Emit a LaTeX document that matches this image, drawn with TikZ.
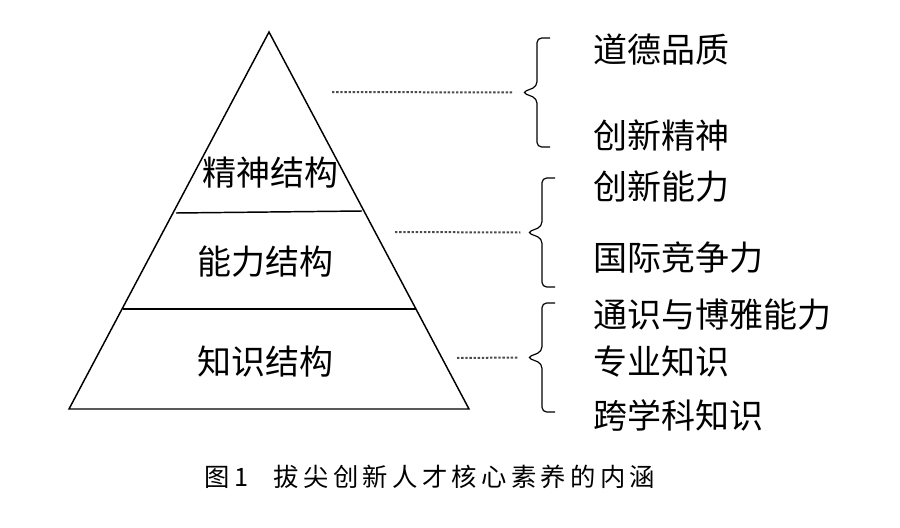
\documentclass[tikz,border=0pt]{standalone}
\usepackage{fontspec}
\newfontfamily\cjk{Noto Sans CJK SC}
\newfontfamily\cjkcap[LetterSpace=17]{Noto Sans CJK SC}

\begin{document}
\begin{tikzpicture}[x=0.75pt, y=-0.75pt,
      every node/.append style={font=\cjk\fontsize{25.5}{30}\selectfont, inner sep=0pt},
      layer/.style={line width=1.1pt},
      dots/.style={gray!60!black, line width=1.5pt, dash pattern=on 1.8pt off 1.3pt},
      bracket/.style={line width=0.9pt, rounded corners=3.5pt}]
    \tikzstyle{item} = [anchor=west, color=black]
    \useasboundingbox (0,0) rectangle (900,528);
    \coordinate (apex) at (269,32);
    \coordinate (baseL) at (69,409);
    \coordinate (baseR) at (469,409);
    \coordinate (cut1L) at (176,213);
    \coordinate (cut1R) at (362,211);
    \coordinate (cut2L) at (123,309);
    \coordinate (cut2R) at (416,309);
    \draw[layer, line join=miter] (apex) -- (baseR) -- (baseL) -- cycle;
    \draw[layer] (cut1L) -- (cut1R);
    \draw[layer] (cut2L) -- (cut2R);
    \node (spirit) at (270,173) {精神结构};
    \node (ability) at (265,262) {能力结构};
    \node (knowledge) at (265,362) {知识结构};
    \coordinate (b1top) at (550,38);
    \coordinate (b2top) at (555,178);
    \coordinate (b3top) at (555,303);
    \coordinate (tip1) at (522,92.5);
    \coordinate (tip2) at (527,232.5);
    \coordinate (tip3) at (527,357.5);
    \coordinate (from1) at (332,92);
    \coordinate (from2) at (395,232);
    \coordinate (from3) at (457,358);
    \foreach \b in {b1top,b2top,b3top}
      \draw[bracket] (\b) -- ++(-13,0) -- ++(0,48.5) -- ++(-15,6) -- ++(15,6) -- ++(0,48.5) -- ++(13,0);
    \draw[dots] (from1) -- ([xshift=-7.5pt]tip1);
    \draw[dots] (from2) -- ([xshift=-5pt]tip2);
    \draw[dots] (from3) -- ([xshift=-6.5pt]tip3);
    \node [item] (moral) at (593,50) {道德品质};
    \node [item] (innospirit) at (593,135) {创新精神};
    \node [item] (innoability) at (593,187) {创新能力};
    \node [item] (global) at (593,258) {国际竞争力};
    \node [item] (liberal) at (593,315) {通识与博雅能力};
    \node [item] (major) at (593,362) {专业知识};
    \node [item] (cross) at (593,415) {跨学科知识};
    \node (caption) at (430,477) {\cjkcap\fontsize{19}{22}\selectfont 图1\hspace{1em}拔尖创新人才核心素养的内涵};
  \end{tikzpicture}
\end{document}
